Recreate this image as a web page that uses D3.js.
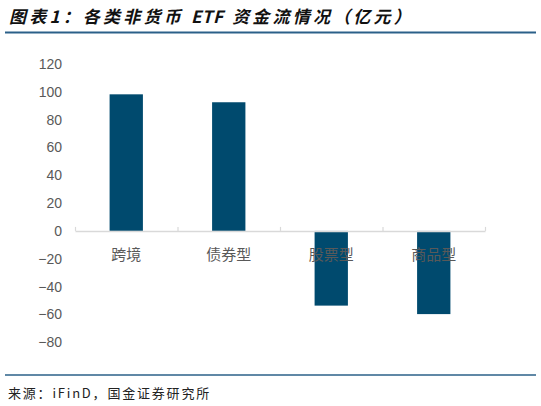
<!DOCTYPE html>
<html>
<head>
<meta charset="utf-8">
<script src="https://cdn.jsdelivr.net/npm/d3@7"></script>
<style>
  body { margin: 0; background: #fff; }
  svg text { font-family: "Noto Sans CJK SC", "Liberation Sans", sans-serif; }
</style>
</head>
<body>
<div id="chart"></div>
<script>
// data
var categories = ["跨境", "债券型", "股票型", "商品型"];
var flows = [98.2, 92.5, -53.7, -59.8];
var yTicks = [-80, -60, -40, -20, 0, 20, 40, 60, 80, 100, 120];

var svgWidth = 541;
var svgHeight = 406;

var svg = d3.select("#chart")
  .append("svg")
  .attr("width", svgWidth)
  .attr("height", svgHeight);

// title + rule
var title = svg.append("text")
  .attr("x", 9)
  .attr("y", 23)
  .attr("font-size", 17)
  .attr("font-weight", "bold")
  .attr("font-style", "italic")
  .attr("fill", "#111");
title.append("tspan").attr("letter-spacing", 3.2).text("图表1：各类非货币\u00a0");
title.append("tspan").attr("letter-spacing", 0.5).text("ETF\u00a0\u00a0");
title.append("tspan").attr("letter-spacing", 3.2).text("资金流情况（亿元）");

svg.append("line")
  .attr("x1", 5).attr("x2", 536)
  .attr("y1", 32.5).attr("y2", 32.5)
  .attr("stroke", "#2b6089")
  .attr("stroke-width", 2);

// scales
var x = d3.scaleBand()
  .domain(categories)
  .range([75, 485])
  .paddingInner(0.675)
  .paddingOuter(0.3375);

var y = d3.scaleLinear()
  .domain([-80, 120])
  .range([342.2, 64]);

// y axis labels (no line)
var leftAxis = d3.axisLeft(y).tickValues(yTicks).tickSize(0).tickPadding(0);
var gy = svg.append("g")
  .attr("transform", "translate(62,0)")
  .call(leftAxis);
gy.select(".domain").remove();
gy.selectAll("text")
  .attr("font-size", 14)
  .attr("fill", "#595959")
  .style("font-family", "'Liberation Sans', Arial, sans-serif");

// bars
svg.selectAll(".bar")
  .data(flows)
  .enter()
  .append("rect")
  .attr("class", "bar")
  .attr("x", (d, i) => x(categories[i]))
  .attr("width", x.bandwidth())
  .attr("y", d => y(Math.max(0, d)))
  .attr("height", d => Math.abs(y(d) - y(0)))
  .attr("fill", "#004a6e");

// zero axis with tick marks (pointing up) at band edges
var edges = categories.map(c => x(c) - x.step() * x.paddingInner() / 2).concat([485]);
var bottomAxis = d3.axisTop(d3.scaleLinear().domain([75, 485]).range([75, 485]))
  .tickValues(edges).tickSize(4).tickSizeOuter(0).tickFormat("");
var gx = svg.append("g")
  .attr("transform", `translate(0, ${y(0)})`)
  .call(bottomAxis);
gx.select(".domain").attr("stroke", "#d9d9d9").attr("stroke-width", 1.5);
gx.selectAll(".tick line").attr("stroke", "#d9d9d9").attr("stroke-width", 1.2);

// category labels
svg.selectAll(".cat")
  .data(categories)
  .enter()
  .append("text")
  .attr("class", "cat")
  .attr("x", d => x(d) + x.bandwidth() / 2)
  .attr("y", y(0) + 29)
  .attr("text-anchor", "middle")
  .attr("font-size", 15)
  .attr("fill", "#595959")
  .text(d => d);

// footer
svg.append("line")
  .attr("x1", 5).attr("x2", 536)
  .attr("y1", 375).attr("y2", 375)
  .attr("stroke", "#2b6089")
  .attr("stroke-width", 1.5);

svg.append("text")
  .attr("x", 8)
  .attr("y", 398)
  .attr("font-size", 13)
  .attr("letter-spacing", 1.8)
  .attr("fill", "#222")
  .text("来源：iFinD，国金证券研究所");
</script>
</body>
</html>
